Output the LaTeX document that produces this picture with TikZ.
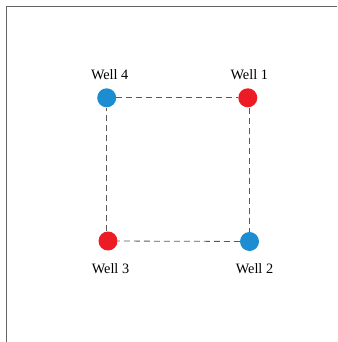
\documentclass[tikz,border=0pt]{standalone}
\usepackage{fontspec}
\setmainfont{Liberation Serif}
\definecolor{wellblue}{RGB}{27,141,208}
\definecolor{wellred}{RGB}{237,28,36}
\definecolor{framegray}{RGB}{100,100,100}
\definecolor{dashgray}{RGB}{90,90,90}
\begin{document}
\begin{tikzpicture}[x=1pt,y=-1pt,
  well/.style={circle,inner sep=0pt,minimum size=19pt},
  lbl/.style={font=\fontsize{14.3}{16}\selectfont,inner sep=0pt,anchor=base},
  conn/.style={draw=dashgray,line width=0.8pt,dash pattern=on 6pt off 4pt}]
\useasboundingbox (0,0) rectangle (337,342);
\coordinate (fa) at (6.5,342);
\coordinate (fb) at (6.5,6.5);
\coordinate (fc) at (337,6.5);
\draw[framegray,line width=1pt] (fa) -- (fb) -- (fc);
\node[well,fill=wellblue] (w4) at (106.7,97.8) {};
\node[well,fill=wellred] (w1) at (247.8,97.8) {};
\node[well,fill=wellred] (w3) at (108,241) {};
\node[well,fill=wellblue] (w2) at (249.5,241.5) {};
\draw[conn] (w4) -- (w1);
\draw[conn] (w1.south -| w2) -- (w2.north);
\draw[conn] (w2) -- (w3);
\draw[conn] (w3.north -| w4) -- (w4.south);
\node[lbl] (l4) at (109.7,79.3) {Well 4};
\node[lbl] (l1) at (249.3,79.3) {Well 1};
\node[lbl] (l3) at (110.5,273.5) {Well 3};
\node[lbl] (l2) at (254.5,273.5) {Well 2};
\end{tikzpicture}
\end{document}
